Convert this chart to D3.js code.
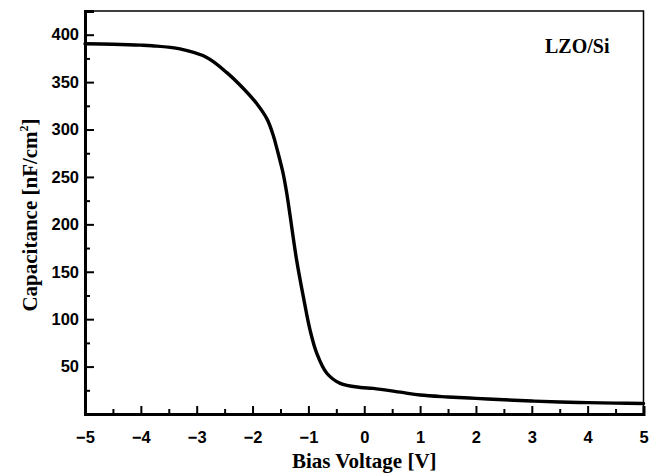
<!DOCTYPE html>
<html>
<head>
<meta charset="utf-8">
<script src="https://cdn.jsdelivr.net/npm/d3@7"></script>
<style>
  html, body { margin: 0; padding: 0; background: #fff; }
  svg { display: block; }
</style>
</head>
<body>
<svg id="chart" width="661" height="476"></svg>
<script>
// Data
const biasVoltage = [-5, -4.5, -4, -3.8, -3.3, -2.82, -2.46, -2.16, -1.92, -1.74, -1.63, -1.56, -1.45, -1.38, -1.33, -1.21, -1.09, -0.97, -0.85, -0.67, -0.43, -0.07, 0.16, 0.65, 1, 1.5, 2, 2.5, 3, 3.5, 4, 4.5, 5];
const capacitance = [390.5, 390, 389, 388.3, 385, 376, 360, 343, 327, 311, 294, 279, 253, 230, 210, 162, 123.5, 88.4, 64, 43, 32.3, 28, 27, 23, 20, 18, 16.5, 15, 13.7, 12.7, 12, 11.5, 11];
const xTicks = [-5, -4, -3, -2, -1, 0, 1, 2, 3, 4, 5];
const yTicks = [50, 100, 150, 200, 250, 300, 350, 400];
const yMinorTicks = [25, 75, 125, 175, 225, 275, 325, 375];
const xMinorTicks = [-4.5, -3.5, -2.5, -1.5, -0.5, 0.5, 1.5, 2.5, 3.5, 4.5];

const svg = d3.select("#chart");
const m = { left: 85, top: 11, right: 661 - 643.5, bottom: 476 - 414 };
const W = 661, H = 476;

const x = d3.scaleLinear().domain([-5, 5]).range([m.left, W - m.right]);
const y = d3.scaleLinear().domain([0, 425]).range([H - m.bottom, m.top]);

const tickFont = "'Liberation Sans', Arial, sans-serif";
const serif = "'Liberation Serif', 'Times New Roman', serif";

// frame
svg.append("rect")
  .attr("x", x(-5)).attr("y", y(425))
  .attr("width", x(5) - x(-5)).attr("height", y(0) - y(425))
  .attr("fill", "none").attr("stroke", "#000").attr("stroke-width", 1.5);

// x axis
const xAxis = svg.append("g").attr("transform", `translate(0,${y(0)})`)
  .call(d3.axisBottom(x).tickValues(xTicks).tickSize(-8).tickPadding(17).tickFormat(d3.format("d")));
xAxis.select(".domain").attr("stroke-width", 3);
xAxis.selectAll(".tick line").attr("stroke-width", 2);
xAxis.selectAll("text").attr("font-family", tickFont).attr("font-weight", "bold")
  .attr("font-size", 16.5).attr("fill", "#000");
svg.append("g").attr("transform", `translate(0,${y(0)})`)
  .call(d3.axisBottom(x).tickValues(xMinorTicks).tickSize(-5).tickFormat(""))
  .call(g => g.select(".domain").remove())
  .selectAll(".tick line").attr("stroke-width", 2);

// y axis
const yAxis = svg.append("g").attr("transform", `translate(${x(-5)},0)`)
  .call(d3.axisLeft(y).tickValues(yTicks).tickSize(-9).tickPadding(6).tickFormat(d3.format("d")));
yAxis.select(".domain").attr("stroke-width", 3);
yAxis.selectAll(".tick line").attr("stroke-width", 2);
yAxis.selectAll("text").attr("font-family", tickFont).attr("font-weight", "bold")
  .attr("font-size", 16.5).attr("fill", "#000");
svg.append("g").attr("transform", `translate(${x(-5)},0)`)
  .call(d3.axisLeft(y).tickValues(yMinorTicks).tickSize(-5).tickFormat(""))
  .call(g => g.select(".domain").remove())
  .selectAll(".tick line").attr("stroke-width", 2);

// curve
const pts = biasVoltage.map((v, i) => [v, capacitance[i]]);
svg.append("path")
  .datum(pts)
  .attr("fill", "none").attr("stroke", "#000").attr("stroke-width", 3.4)
  .attr("stroke-linejoin", "round").attr("stroke-linecap", "round")
  .attr("d", d3.line().x(d => x(d[0])).y(d => y(d[1])).curve(d3.curveCatmullRom.alpha(0.5)));

// axis titles
svg.append("text")
  .attr("x", (x(-5) + x(5)) / 2).attr("y", 468)
  .attr("text-anchor", "middle")
  .attr("font-family", serif).attr("font-weight", "bold").attr("font-size", 21)
  .text("Bias Voltage [V]");

const yt = svg.append("text")
  .attr("transform", `translate(37,215) rotate(-90)`)
  .attr("text-anchor", "middle")
  .attr("font-family", serif).attr("font-weight", "bold").attr("font-size", 21);
yt.append("tspan").text("Capacitance [nF/cm");
yt.append("tspan").attr("font-size", 12).attr("dy", -9).text("2");
yt.append("tspan").attr("dy", 9).text("]");

// label
svg.append("text")
  .attr("x", 545).attr("y", 53)
  .attr("font-family", serif).attr("font-weight", "bold").attr("font-size", 20)
  .text("LZO/Si");
</script>
</body>
</html>
